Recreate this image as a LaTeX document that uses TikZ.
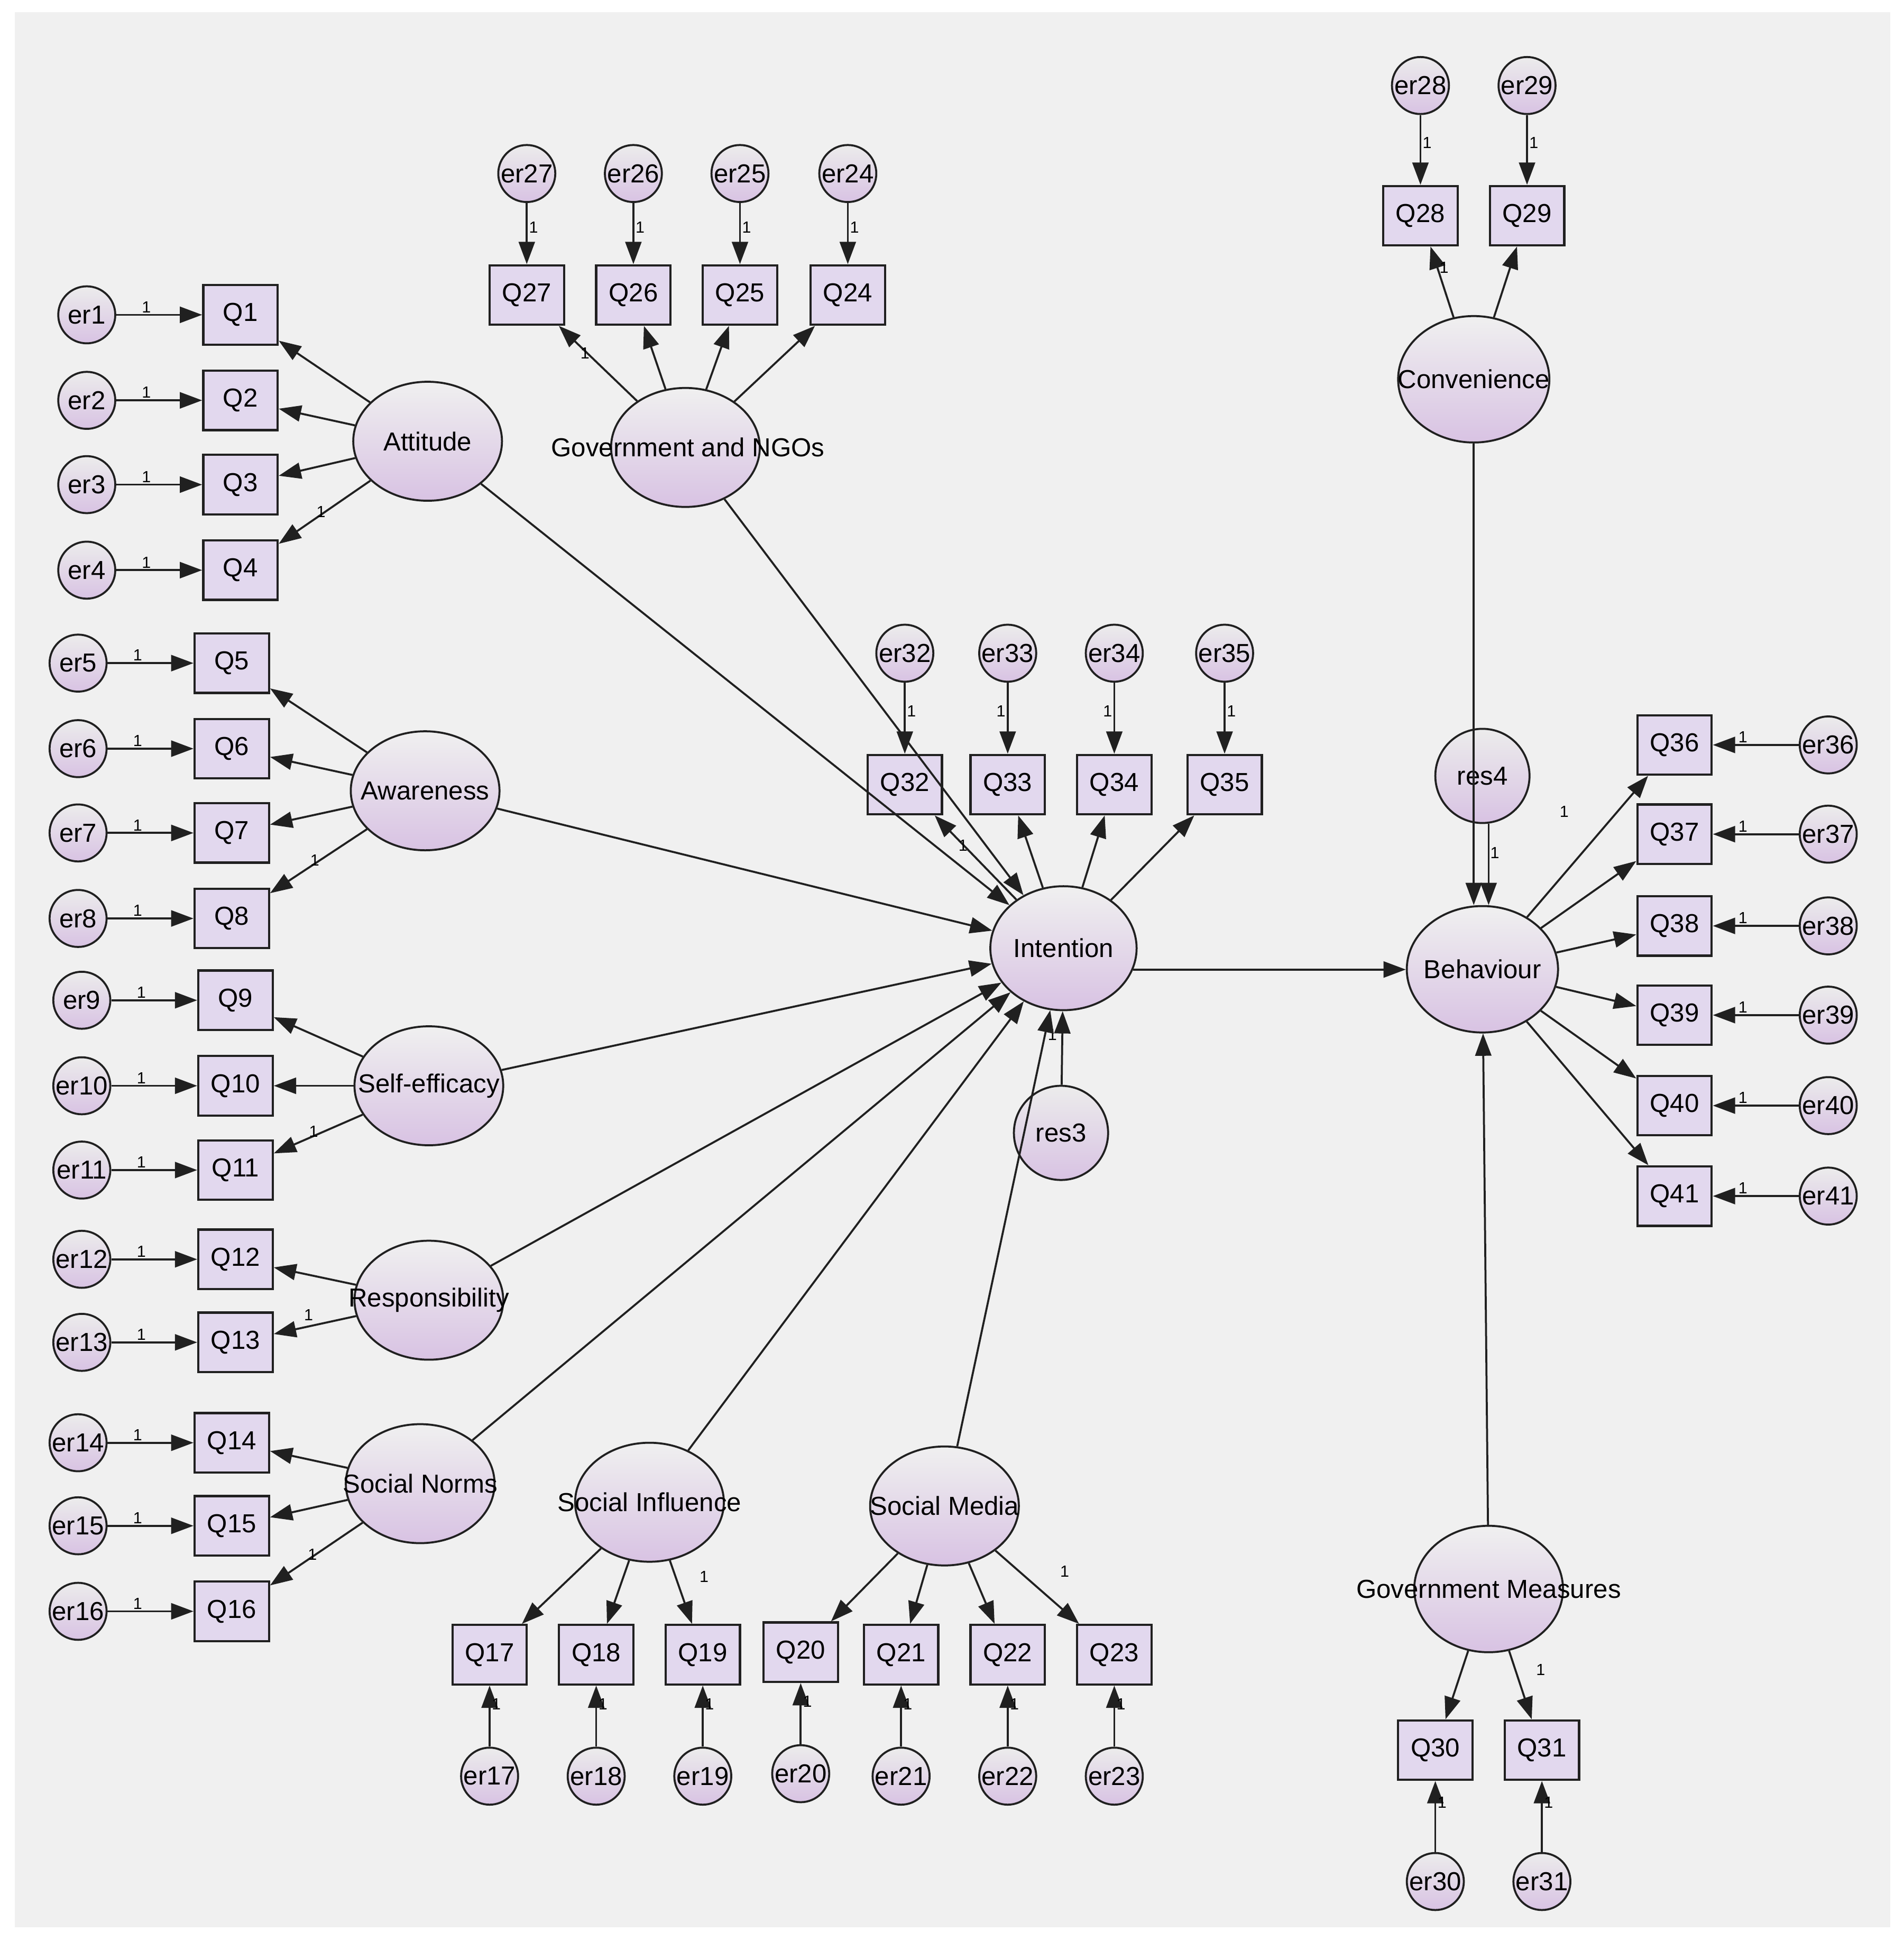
\documentclass[tikz,border=0pt]{standalone}
\usepackage{fontspec}
\setmainfont{Liberation Sans}
\usetikzlibrary{shapes.geometric,arrows.meta}
\definecolor{bg}{HTML}{F0F0F0}
\definecolor{ln}{HTML}{202020}
\definecolor{bx}{HTML}{E2D8EE}
\begin{document}
\begin{tikzpicture}[x=1pt,y=-1pt,
 every node/.style={font=\fontsize{21}{24}\selectfont},
 err/.style={circle,draw=ln,line width=1.6pt,minimum size=46pt,inner sep=0pt,top color=gray!15,bottom color=bx!90!violet},
 obs/.style={rectangle,draw=ln,line width=1.8pt,minimum width=60pt,minimum height=48pt,inner sep=0pt,fill=bx},
 lat/.style={ellipse,draw=ln,line width=1.6pt,minimum width=120pt,minimum height=96pt,inner sep=0pt,top color=gray!12,bottom color=bx!90!violet},
 arr/.style={draw=ln,line width=1.6pt,-{Triangle[length=18pt,width=13pt]}},
 one/.style={font=\fontsize{13}{14}\selectfont,inner sep=1pt}]
\useasboundingbox (0,0) rectangle (1536,1566);
\fill[bg] (12,10) rectangle (1525,1555);
% left groups
\foreach \i/\x/\y in {1/70/254,2/70/323,3/70/391,4/70/460,5/63/535,6/63/604,7/63/672,8/63/741,9/66/807,10/66/876,11/66/944,12/66/1016,13/66/1083,14/63/1164,15/63/1231,16/63/1300}{
 \node[err] (er\i) at (\x,\y) {er\i};
 \node[obs] (Q\i) at (\x+124,\y) {Q\i};
 \draw[arr] (er\i) -- node[one,pos=0.35,above]{1} (Q\i);
}
\node[lat] (att) at (345,356) {};
\node[lat] (awa) at (343,638) {};
\node[lat] (sel) at (346,876) {};
\node[lat] (res) at (346,1049) {};
\node[lat] (sn) at (339,1197) {};
\node (tatt) at (345,356) {Attitude};
\node (tawa) at (343,638) {Awareness};
\node (tsel) at (346,876) {Self-efficacy};
\node (tres) at (346,1049) {Responsibility};
\node (tsn) at (339,1197) {Social Norms};
\foreach \l/\q in {att/1,att/2,att/3,att/4,awa/5,awa/6,awa/7,awa/8,sel/9,sel/10,sel/11,res/12,res/13,sn/14,sn/15,sn/16}{\draw[arr] (\l) -- (Q\q);}
\node[one] at (259,413) {1};\node[one] at (254,694) {1};\node[one] at (253,913) {1};\node[one] at (249,1061) {1};\node[one] at (252,1254) {1};
% top gov NGOs
\foreach \i/\x in {27/425,26/511,25/597,24/684}{
 \node[err] (er\i) at (\x,140) {er\i};
 \node[obs] (Q\i) at (\x,238) {Q\i};
 \draw[arr] (er\i) -- node[one,pos=0.4,right]{1} (Q\i);
}
\node[lat] (gov) at (553,361) {};
\node (tgov) at (555,361) {Government and NGOs};
\foreach \q in {27,26,25,24}{\draw[arr] (gov) -- (Q\q);}
\node[one] at (472,285) {1};
% intention
\node[lat,minimum width=118pt,minimum height=100pt] (int) at (858,765) {};
\node (tint) at (858,765) {Intention};
\foreach \i/\x in {32/730,33/813,34/899,35/988}{
 \node[err] (er\i) at (\x,527) {er\i};
 \node[obs] (Q\i) at (\x,633) {Q\i};
}
\draw[arr] (er32) -- node[one,pos=0.4,right]{1} (Q32);
\draw[arr] (er33) -- node[one,pos=0.4,left]{1} (Q33);
\draw[arr] (er34) -- node[one,pos=0.4,left]{1} (Q34);
\draw[arr] (er35) -- node[one,pos=0.4,right]{1} (Q35);
\foreach \q in {32,33,34,35}{\draw[arr] (int) -- (Q\q);}
\node[one] at (777,682) {1};
\node[err,minimum size=76pt] (res3) at (856,914) {res3};
\draw[arr] (res3) -- (int);
\node[one] at (849,835) {1};
% bottom
\node[lat] (si) at (524,1212) {};
\node (tsi) at (524,1212) {Social Influence};
\node[lat] (sm) at (762,1215) {};
\node (tsm) at (762,1215) {Social Media};
\foreach \i/\x/\y in {17/395/1335,18/481/1335,19/567/1335,20/646/1333,21/727/1335,22/813/1335,23/899/1335}{
 \node[obs] (Q\i) at (\x,\y) {Q\i};
 \node[err] (er\i) at (\x,\y+98) {er\i};
 \draw[arr] (er\i) -- node[one,pos=0.7,right]{1} (Q\i);
}
\foreach \q in {17,18,19}{\draw[arr] (si) -- (Q\q);}
\foreach \q in {20,21,22,23}{\draw[arr] (sm) -- (Q\q);}
\node[one] at (568,1272) {1};\node[one] at (859,1268) {1};
% paths into intention
\foreach \l in {att,gov,awa,sel,res,sn,si,sm}{\draw[arr] (\l) -- (int);}
% convenience
\node[lat,minimum width=122pt,minimum height=102pt] (con) at (1189,306) {};
\node (tcon) at (1189,306) {Convenience};
\foreach \i/\x in {28/1146,29/1232}{
 \node[err] (er\i) at (\x,69) {er\i};
 \node[obs] (Q\i) at (\x,174) {Q\i};
 \draw[arr] (er\i) -- node[one,pos=0.4,right]{1} (Q\i);
 \draw[arr] (con) -- (Q\i);
}
\node[one] at (1165,216) {1};
% behaviour
\node[lat,minimum width=122pt,minimum height=102pt] (beh) at (1196,782) {};
\node (tbeh) at (1196,782) {Behaviour};
\node[err,minimum size=76pt] (res4) at (1196,626) {res4};
\draw[arr] (int.-17) -- (int.-17 -| beh.west);
\draw[arr] (con.south) -- (beh.north -| con.south);
\draw[arr] ([xshift=5pt]res4.south) -- ([xshift=5pt]beh.north);
\node[one] at (1206,688) {1};
\foreach \i/\y in {36/601,37/673,38/747,39/819,40/892,41/965}{
 \node[obs] (Q\i) at (1351,\y) {Q\i};
 \node[err] (er\i) at (1475,\y) {er\i};
 \draw[arr] (er\i) -- node[one,pos=0.65,above]{1} (Q\i);
 \draw[arr] (beh) -- (Q\i);
}
\node[one] at (1262,655) {1};
% government measures
\node[lat,minimum width=120pt,minimum height=102pt] (gm) at (1201,1282) {};
\node (tgm) at (1201,1282) {Government Measures};
\draw[arr] (gm) -- (beh);
\foreach \i/\x in {30/1158,31/1244}{
 \node[obs] (Q\i) at (\x,1412) {Q\i};
 \node[err] (er\i) at (\x,1518) {er\i};
 \draw[arr] (er\i) -- node[one,pos=0.7,right]{1} (Q\i);
 \draw[arr] (gm) -- (Q\i);
}
\node[one] at (1243,1347) {1};
\end{tikzpicture}
\end{document}
